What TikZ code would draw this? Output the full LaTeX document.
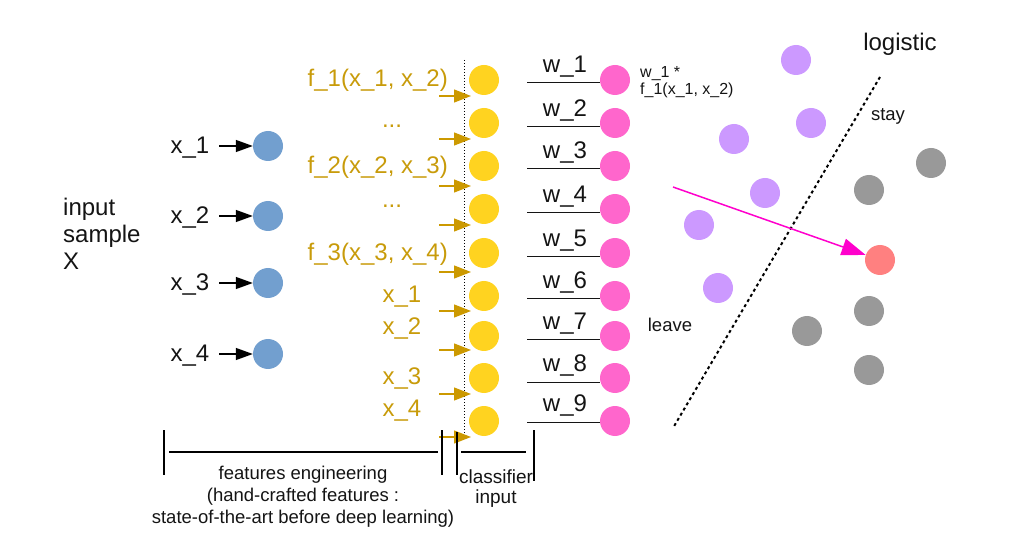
\documentclass[tikz,border=0pt]{standalone}
\usepackage{fontspec}
\setmainfont{Liberation Sans}
\usetikzlibrary{arrows.meta}
\definecolor{gold}{RGB}{200,155,10}
\definecolor{goldarrow}{RGB}{204,153,0}
\definecolor{cyellow}{RGB}{255,211,32}
\definecolor{cblue}{RGB}{114,159,207}
\definecolor{cpink}{RGB}{255,102,204}
\definecolor{cpurple}{RGB}{204,153,255}
\definecolor{cgray}{RGB}{153,153,153}
\definecolor{cred}{RGB}{255,128,128}
\definecolor{cmag}{RGB}{255,0,204}
\definecolor{ink}{RGB}{20,20,20}
\tikzset{
  dot/.style={circle,minimum size=30pt,inner sep=0pt,draw=none,fill=#1},
  big/.style={font=\fontsize{24}{27}\selectfont,inner sep=0pt,text=ink},
  mid/.style={font=\fontsize{18.5}{22}\selectfont,inner sep=0pt,text=ink},
  small/.style={font=\fontsize{16}{17}\selectfont,inner sep=0pt,text=ink},
  goldtxt/.style={font=\fontsize{24}{27}\selectfont,inner sep=0pt,text=gold},
  ghead/.tip={Triangle[length=17pt,width=13pt]},
  khead/.tip={Triangle[length=17pt,width=12pt]},
  mhead/.tip={Triangle[length=24pt,width=17pt]},
  garrow/.style={draw=goldarrow,line width=1.3pt,-ghead},
  karrow/.style={draw=black,line width=1.3pt,-khead},
  wline/.style={draw=ink,line width=1pt},
  bracket/.style={draw=black,line width=1.2pt},
}
\begin{document}
\begin{tikzpicture}[x=1pt,y=-1pt]
\useasboundingbox (0,0) rectangle (1021,556);

% input sample
\node[big,anchor=west,align=left] (inp) at (63,234) {input\\sample\\X};

% blue input nodes
\foreach \i/\y in {1/146,2/216,3/283,4/354}{
  \node[dot=cblue] (b\i) at (268,\y) {};
  \node[big] (lx\i) at (190,\y+2) {x\_\i};
  \coordinate (sx\i) at (219,\y);
  \draw[karrow] (sx\i) -- (b\i.west);
}

% dotted separator
\coordinate (dtop) at (464,60);
\coordinate (dbot) at (464,436);
\draw[line width=1pt,dash pattern=on 1pt off 2pt] (dtop) -- (dbot);

% yellow nodes and pink nodes
\foreach \i/\y/\ay/\ly in {1/80/96/83,2/123/139/127,3/166/186/169,4/209/225/213,5/253/272/257,6/296/311/299,7/336/350/340,8/378/394/382,9/421/437/422}{
  \node[dot=cyellow] (y\i) at (484,\y) {};
  \coordinate (ga\i) at (439,\ay);
  \coordinate (gb\i) at (471,\ay);
  \draw[garrow] (ga\i) -- (gb\i);
  \node[dot=cpink] (p\i) at (615,\y) {};
  \coordinate (wl\i) at (527,\ly);
  \coordinate (wr\i) at (600,\ly);
  \draw[wline] (wl\i) -- (wr\i);
  \node[big] (w\i) at (565,\ly-16) {w\_\i};
}

% golden labels
\node[goldtxt,anchor=east] (f1) at (448,80) {f\_1(x\_1, x\_2)};
\node[goldtxt] (d1) at (392,126) {...};
\node[goldtxt,anchor=east] (f2) at (448,167) {f\_2(x\_2, x\_3)};
\node[goldtxt] (d2) at (392,206) {...};
\node[goldtxt,anchor=east] (f3) at (448,254) {f\_3(x\_3, x\_4)};
\node[goldtxt] (gx1) at (402,297) {x\_1};
\node[goldtxt] (gx2) at (402,329) {x\_2};
\node[goldtxt] (gx3) at (402,379) {x\_3};
\node[goldtxt] (gx4) at (402,411) {x\_4};

% product label
\node[small,anchor=west,align=left] (prod) at (640,82) {w\_1 *\\f\_1(x\_1, x\_2)};

% logistic panel
\node[big] (logi) at (900,44) {logistic};
\node[mid] (stay) at (888,116) {stay};
\node[mid] (leave) at (670,325) {leave};

\coordinate (ltop) at (880,77);
\coordinate (lbot) at (673,428);
\draw[line width=2pt,dash pattern=on 3pt off 3pt] (ltop) -- (lbot);

\foreach \n/\x/\y in {u1/796/60,u2/811/123,u3/734/139,u4/765/193,u5/699/225,u6/718/288}{
  \node[dot=cpurple] (\n) at (\x,\y) {};
}
\foreach \n/\x/\y in {g1/931/163,g2/869/190,g3/869/311,g4/807/331,g5/869/370}{
  \node[dot=cgray] (\n) at (\x,\y) {};
}
\node[dot=cred] (red) at (880,260) {};
\coordinate (mstart) at (673,187);
\draw[draw=cmag,line width=1.5pt,-mhead] (mstart) -- (red);

% bottom brackets
\coordinate (b1t) at (164,430); \coordinate (b1b) at (164,475);
\coordinate (b2t) at (442,430); \coordinate (b2b) at (442,475);
\coordinate (b3t) at (457,432); \coordinate (b3b) at (457,475);
\coordinate (b4t) at (534,430); \coordinate (b4b) at (534,481);
\coordinate (h1l) at (169,452); \coordinate (h1r) at (438,452);
\coordinate (h2l) at (461,452); \coordinate (h2r) at (526,452);
\draw[bracket] (b1t) -- (b1b);
\draw[bracket] (b2t) -- (b2b);
\draw[bracket] (b3t) -- (b3b);
\draw[bracket] (b4t) -- (b4b);
\draw[bracket] (h1l) -- (h1r);
\draw[bracket] (h2l) -- (h2r);

\node[mid,align=center] (fe) at (303,497) {features engineering\\(hand-crafted features :\\state-of-the-art before deep learning)};
\node[mid,align=center,font=\fontsize{19}{20}\selectfont] (ci) at (496,489) {classifier\\input};
\end{tikzpicture}
\end{document}
